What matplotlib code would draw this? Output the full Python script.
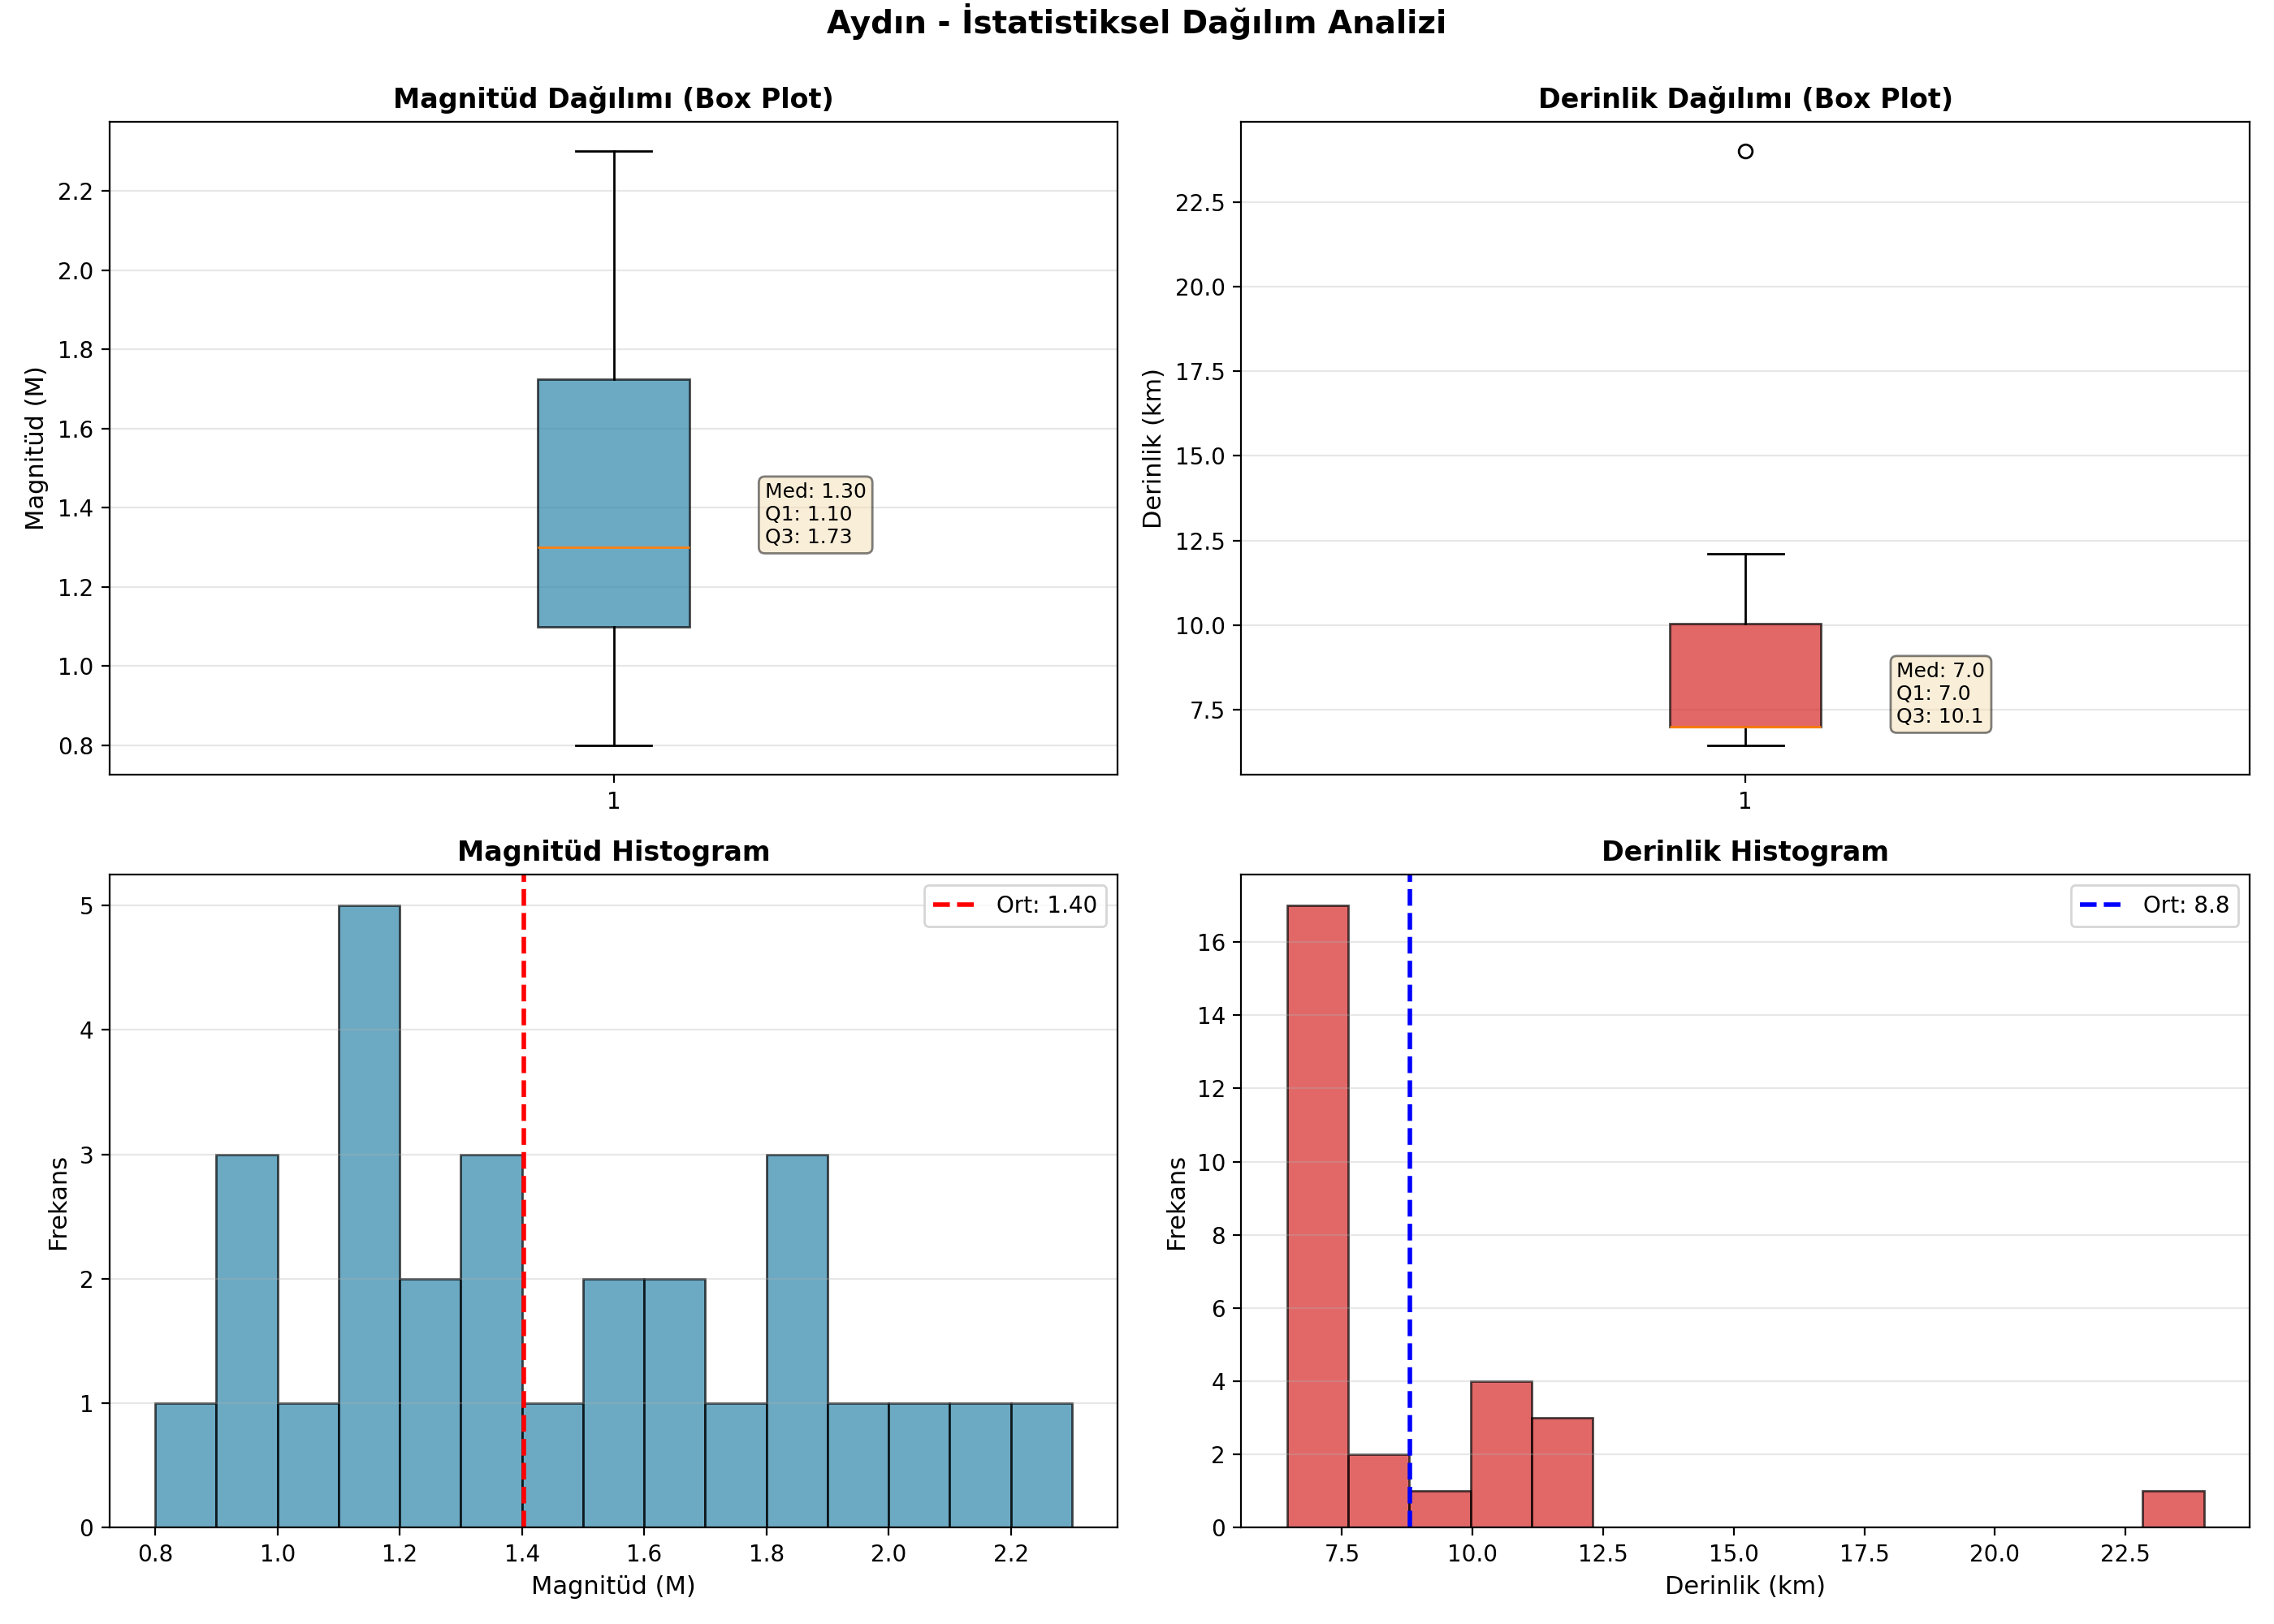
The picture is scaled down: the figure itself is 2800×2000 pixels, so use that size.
import matplotlib
matplotlib.use('Agg')
import matplotlib.pyplot as plt
import numpy as np

city = "Aydın"

# magnitudes (28 events)
magnitudes = [0.8, 0.9, 0.9, 0.9, 1.0, 1.1, 1.1, 1.1, 1.1, 1.1,
              1.2, 1.2, 1.3, 1.3, 1.3, 1.4, 1.5, 1.5, 1.6, 1.6,
              1.7, 1.8, 1.8, 1.8, 1.9, 2.0, 2.1, 2.3]

# depths in km
depths = [6.45, 7.0, 7.0, 7.0, 7.0, 7.0, 7.0, 7.0, 7.0, 7.0,
          7.0, 7.0, 7.0, 7.0, 7.0, 7.0, 7.0, 8.0, 8.6, 9.6,
          10.0, 10.2, 10.7, 11.0, 11.6, 12.0, 12.1, 24.0]

mag_color = '#2E86AB'
dep_color = '#D62828'


def stats_box(ax, data, fmt):
    q1, med, q3 = np.percentile(data, [25, 50, 75])
    txt = f"Med: {med:{fmt}}\nQ1: {q1:{fmt}}\nQ3: {q3:{fmt}}"
    ax.text(1.15, med, txt, fontsize=9, va='bottom', ha='left',
            bbox=dict(boxstyle='round', facecolor='wheat', alpha=0.5))


fig, axes = plt.subplots(2, 2, figsize=(14, 10))
title = fig.suptitle(f"{city} - İstatistiksel Dağılım Analizi", fontsize=14, fontweight='bold')

# magnitude box plot
ax = axes[0, 0]
bp = ax.boxplot(magnitudes, patch_artist=True)
bp['boxes'][0].set_facecolor(mag_color)
bp['boxes'][0].set_alpha(0.7)
ax.set_title("Magnitüd Dağılımı (Box Plot)", fontsize=12, fontweight='bold')
ax.set_ylabel("Magnitüd (M)", fontsize=11)
ax.grid(axis='y', alpha=0.3)
stats_box(ax, magnitudes, '.2f')

# depth box plot
ax = axes[0, 1]
bp = ax.boxplot(depths, patch_artist=True)
bp['boxes'][0].set_facecolor(dep_color)
bp['boxes'][0].set_alpha(0.7)
ax.set_title("Derinlik Dağılımı (Box Plot)", fontsize=12, fontweight='bold')
ax.set_ylabel("Derinlik (km)", fontsize=11)
ax.grid(axis='y', alpha=0.3)
stats_box(ax, depths, '.1f')

# magnitude histogram
ax = axes[1, 0]
ax.hist(magnitudes, bins=15, color=mag_color, alpha=0.7, edgecolor='black')
m_mean = np.mean(magnitudes)
ax.axvline(m_mean, color='red', linestyle='--', linewidth=2, label=f"Ort: {m_mean:.2f}")
ax.set_title("Magnitüd Histogram", fontsize=12, fontweight='bold')
ax.set_xlabel("Magnitüd (M)", fontsize=11)
ax.set_ylabel("Frekans", fontsize=11)
ax.legend()
ax.grid(axis='y', alpha=0.3)

# depth histogram
ax = axes[1, 1]
ax.hist(depths, bins=15, color=dep_color, alpha=0.7, edgecolor='black')
d_mean = np.mean(depths)
ax.axvline(d_mean, color='blue', linestyle='--', linewidth=2, label=f"Ort: {d_mean:.1f}")
ax.set_title("Derinlik Histogram", fontsize=12, fontweight='bold')
ax.set_xlabel("Derinlik (km)", fontsize=11)
ax.set_ylabel("Frekans", fontsize=11)
ax.legend()
ax.grid(axis='y', alpha=0.3)

plt.tight_layout()
title.set_y(0.998)  # title sits higher than tight_layout leaves it
fig.savefig("out.png", dpi=200)
